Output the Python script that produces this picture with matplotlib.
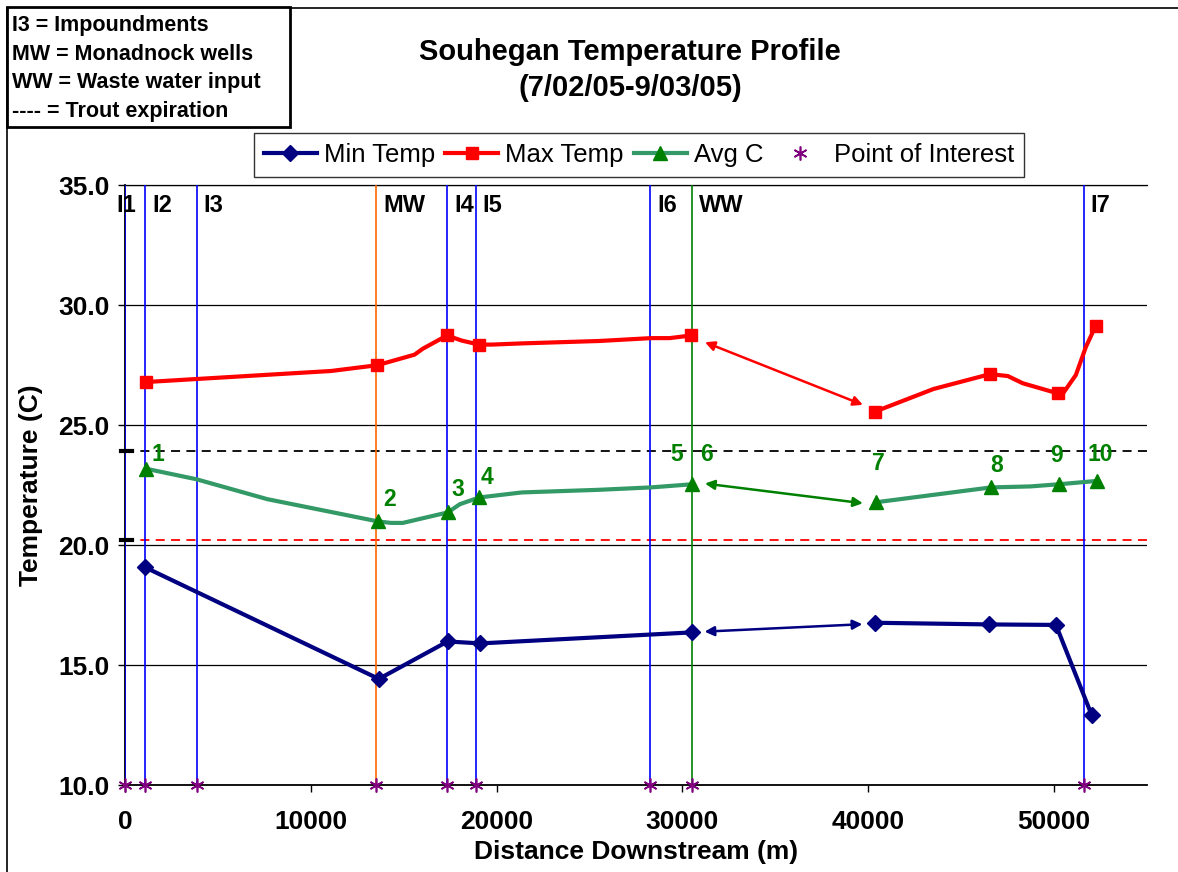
import numpy as np
import matplotlib.pyplot as plt
from matplotlib.patches import Rectangle
from matplotlib.lines import Line2D

plt.rcParams['font.family'] = ['Liberation Sans', 'DejaVu Sans']

# --- data ---
# measured points (markers)
min_x = [1080, 13660, 17360, 19130, 30540, 40340, 46500, 50100, 52030]
min_y = [19.07, 14.42, 15.98, 15.90, 16.36, 16.76, 16.69, 16.67, 12.90]

max_x = [1120, 13570, 17330, 19050, 30470, 40370, 46550, 50190, 52230]
max_y = [26.79, 27.49, 28.73, 28.35, 28.73, 25.56, 27.12, 26.32, 29.12]

avg_x = [1120, 13630, 17380, 19060, 30510, 40410, 46610, 50250, 52310]
avg_y = [23.18, 20.98, 21.36, 21.98, 22.53, 21.78, 22.40, 22.53, 22.67]

# drawn (smoothed) line paths, two pieces each (gap between 30.5 km and 40.4 km)
max_path1_x = [1120, 11080, 13570, 15580, 16030, 17330, 18110, 19050, 19730, 21350, 25510, 28310, 29310, 30470]
max_path1_y = [26.79, 27.25, 27.49, 27.93, 28.18, 28.73, 28.52, 28.35, 28.35, 28.40, 28.50, 28.62, 28.62, 28.73]
max_path2_x = [40370, 43510, 46550, 47510, 48310, 50190, 50510, 51170, 51710, 52230]
max_path2_y = [25.56, 26.50, 27.12, 27.04, 26.74, 26.32, 26.35, 27.08, 28.25, 29.12]

avg_path1_x = [1120, 3840, 7660, 13630, 14320, 14950, 17380, 18020, 19060, 21350, 25510, 28310, 30510]
avg_path1_y = [23.18, 22.74, 21.91, 20.98, 20.92, 20.92, 21.36, 21.70, 21.98, 22.19, 22.30, 22.40, 22.53]
avg_path2_x = [40410, 46610, 48710, 50250, 51710, 52310]
avg_path2_y = [21.78, 22.40, 22.44, 22.53, 22.63, 22.67]

# site markers
site_labels = ['I1', 'I2', 'I3', 'MW', 'I4', 'I5', 'I6', 'WW', 'I7']
site_x = [0, 1100, 3850, 13520, 17350, 18880, 28270, 30530, 51600]
site_colors = ['#0000FF', '#0000FF', '#0000FF', '#FF6600', '#0000FF', '#0000FF',
               '#0000FF', '#008000', '#0000FF']

point_labels = ['1', '2', '3', '4', '5', '6', '7', '8', '9', '10']
point_idx = [0, 1, 2, 3, 4, 4, 5, 6, 7, 8]
point_off = [(12, 14), (11, 22), (10, 23), (8, 20), (-15, 30), (15, 30),
             (2, 39), (6, 22), (-2, 29), (3, 26)]

trout_black = 23.9
trout_red = 20.2

fig = plt.figure(figsize=(11.78, 8.72), dpi=100)
ax = fig.add_axes([125 / 1178, 1 - 785 / 872, 1022 / 1178, 600 / 872])

# outer chart frame (left and top edges)
fig.add_artist(Line2D([7 / 1178, 7 / 1178], [0, 1 - 8 / 872], color='black', lw=1.2))
fig.add_artist(Line2D([7 / 1178, 1], [1 - 8 / 872, 1 - 8 / 872], color='black', lw=1.2))

# horizontal trout limits
ax.axhline(trout_black, color='black', lw=1.3, ls=(0, (5, 3.5)), zorder=2)
ax.axhline(trout_red, color='#FF0000', lw=1.3, ls=(0, (5, 3.5)), zorder=2)
ax.plot([-200, 350], [trout_black, trout_black], color='black', lw=3, clip_on=False, zorder=5)
ax.plot([-200, 350], [trout_red, trout_red], color='black', lw=3, clip_on=False, zorder=5)

# vertical site lines and labels
for lab, xv, c in zip(site_labels, site_x, site_colors):
    ax.plot([xv, xv], [10, 35], color=c, lw=1.2, zorder=3)
    dx = -6 if lab == 'I1' else 5
    ax.annotate(lab, (xv, 34.15), xytext=(dx, 0), textcoords='offset points',
                ha='left', va='center', fontsize=17, fontweight='bold', zorder=6)

# series lines
ax.plot(min_x[:5], min_y[:5], color='#000080', lw=3, zorder=4)
ax.plot(min_x[5:], min_y[5:], color='#000080', lw=3, zorder=4)
ax.plot(min_x, min_y, ls='none', marker='D', ms=8.5, color='#000080', zorder=5)

ax.plot(max_path1_x, max_path1_y, color='#FF0000', lw=3, zorder=4)
ax.plot(max_path2_x, max_path2_y, color='#FF0000', lw=3, zorder=4)
ax.plot(max_x, max_y, ls='none', marker='s', ms=8, color='#FF0000', zorder=5)

ax.plot(avg_path1_x, avg_path1_y, color='#339966', lw=3, zorder=4)
ax.plot(avg_path2_x, avg_path2_y, color='#339966', lw=3, zorder=4)
ax.plot(avg_x, avg_y, ls='none', marker='^', ms=10, color='#008000', zorder=5)

ax.plot(site_x, [10] * len(site_x), ls='none', marker=(6, 2, 0), ms=10,
        mew=1.2, color='#800080', clip_on=False, zorder=6)

# arrows across the gap
arrow_kw = dict(arrowstyle='<|-|>', lw=1.8, mutation_scale=14, shrinkA=0, shrinkB=0)
ax.annotate('', xy=(39710, 25.84), xytext=(31210, 28.45),
            arrowprops=dict(color='#FF0000', **arrow_kw))
ax.annotate('', xy=(39710, 21.74), xytext=(31210, 22.56),
            arrowprops=dict(color='#008000', **arrow_kw))
ax.annotate('', xy=(39680, 16.70), xytext=(31190, 16.39),
            arrowprops=dict(color='#000080', **arrow_kw))

# numbered points
for lab, i, (ox, oy) in zip(point_labels, point_idx, point_off):
    ax.annotate(lab, (avg_x[i], avg_y[i]), xytext=(ox * 0.72, oy * 0.72),
                textcoords='offset points', ha='center', va='center',
                fontsize=16.5, fontweight='bold', color='#008000', zorder=6)

ax.set_xlim(0, 55000)
ax.set_ylim(10, 35)
ax.set_xticks(np.arange(0, 50001, 10000))
ax.set_yticks(np.arange(10, 35.1, 5))
ax.set_yticklabels([f'{v:.1f}' for v in np.arange(10, 35.1, 5)])
ax.tick_params(direction='out', length=5, width=1, labelsize=19, pad=6)
ax.tick_params(axis='x', pad=13)
for t in ax.get_xticklabels() + ax.get_yticklabels():
    t.set_fontweight('bold')
ax.yaxis.grid(True, color='black', lw=0.9)
ax.set_axisbelow(True)
ax.spines['right'].set_visible(False)
ax.spines['top'].set_linewidth(0.9)
ax.spines['left'].set_linewidth(1.3)
ax.spines['bottom'].set_linewidth(1.3)

ax.set_xlabel('Distance Downstream (m)', fontsize=19, fontweight='bold', labelpad=4)
ax.set_ylabel('Temperature (C)', fontsize=19, fontweight='bold', labelpad=11)

fig.text(630 / 1178, 1 - 70 / 872, 'Souhegan Temperature Profile\n(7/02/05-9/03/05)',
         ha='center', va='center', fontsize=21, fontweight='bold', linespacing=1.35)

# legend
handles = [
    Line2D([], [], color='#000080', lw=3, marker='D', ms=8.5),
    Line2D([], [], color='#FF0000', lw=3, marker='s', ms=8),
    Line2D([], [], color='#339966', lw=3, marker='^', ms=10, mfc='#008000', mec='#008000'),
    Line2D([], [], color='#800080', ls='none', marker=(6, 2, 0), ms=10, mew=1.2),
]
leg = fig.legend(handles, ['Min Temp', 'Max Temp', 'Avg C', 'Point of Interest'],
                 loc='center', bbox_to_anchor=(639 / 1178, 1 - 155 / 872), ncol=4,
                 fontsize=18.5, frameon=True, fancybox=False, edgecolor='black',
                 handlelength=2.05, handletextpad=0.28, columnspacing=0.4,
                 borderpad=0.4, borderaxespad=0)
leg.get_frame().set_linewidth(1.0)

# key box at top left
fig.add_artist(Rectangle((7 / 1178, 1 - 127 / 872), 283 / 1178, 120 / 872,
                         transform=fig.transFigure, facecolor='white',
                         edgecolor='black', lw=2, zorder=10))
fig.text(12 / 1178, 1 - 68.5 / 872,
         'I3 = Impoundments\nMW = Monadnock wells\nWW = Waste water input\n---- = Trout expiration',
         ha='left', va='center', fontsize=15.5, fontweight='bold', linespacing=1.47, zorder=11)

fig.savefig('out.png', dpi=100)
